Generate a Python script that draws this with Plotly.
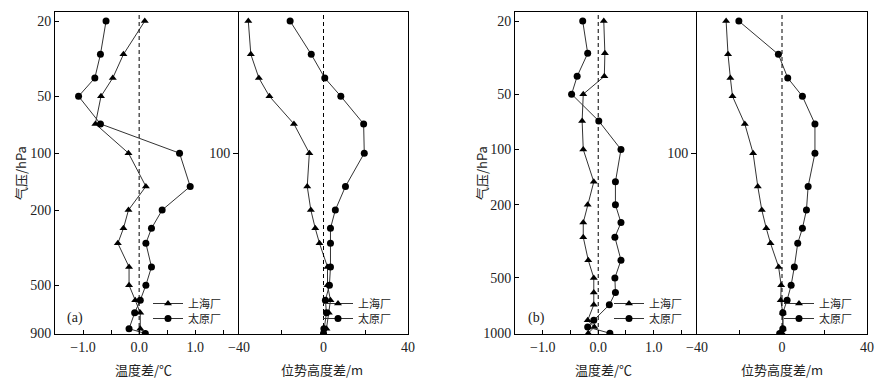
import math
import plotly.graph_objects as go

# ---------------- data ----------------
# panel (a)
levels_a = [20, 30, 40, 50, 70, 100, 150, 200, 250, 300, 400, 500, 600, 700, 850, 900]
temp_a_shanghai = [0.10, -0.28, -0.47, -0.68, -0.78, -0.19, 0.12, -0.19, -0.28, -0.38, -0.18, -0.18, -0.07, 0.02, 0.02, 0.11]
temp_a_taiyuan = [-0.59, -0.69, -0.79, -1.08, -0.69, 0.72, 0.91, 0.41, 0.22, 0.12, 0.22, 0.12, 0.02, -0.08, -0.18, 0.11]
geo_a_shanghai = [-35.6, -34.4, -30.6, -25.6, -14.0, -6.7, -7.7, -6.0, -3.9, -1.9, 1.9, 1.9, 3.3, 2.5, 1.4, 0.2]
geo_a_taiyuan = [-15.8, -5.8, 0.6, 8.2, 19.0, 19.3, 10.4, 5.6, 3.3, 3.3, 3.3, 2.8, 0.9, 1.4, 0.2, 0.0]

# panel (b)
levels_b_temp = [20, 30, 40, 50, 70, 100, 150, 200, 250, 300, 400, 500, 600, 700, 850, 925, 1000]
temp_b_shanghai = [0.10, 0.12, 0.11, -0.27, -0.29, -0.27, -0.08, -0.19, -0.27, -0.27, -0.18, -0.08, -0.08, -0.08, -0.19, -0.07, -0.18]
temp_b_taiyuan = [-0.28, -0.19, -0.38, -0.48, 0.01, 0.41, 0.31, 0.31, 0.41, 0.30, 0.41, 0.30, 0.31, 0.20, -0.08, -0.19, 0.21]
levels_b_geo = [20, 30, 40, 50, 70, 100, 150, 200, 250, 300, 400, 500, 600, 700, 850, 900]
geo_b_shanghai = [-26.3, -25.4, -24.3, -23.3, -17.5, -13.6, -11.4, -9.5, -7.4, -5.4, -1.6, -0.4, -0.6, 0.4, 0.4, 0.2]
geo_b_taiyuan = [-20.3, -1.7, 2.7, 9.6, 15.5, 15.5, 12.3, 11.5, 9.6, 7.4, 5.8, 4.3, 2.4, 0.4, 0.4, -1.1]

series_names = ["上海厂", "太原厂"]
y_ticks_a = [20, 50, 100, 200, 500, 900]
y_ticks_b = [20, 50, 100, 200, 500, 1000]

# ---------------- style ----------------
W, H = 895, 380
NUM_FONT = "Liberation Serif, Noto Sans CJK SC, serif"
CJK_FONT = "Noto Sans CJK SC, Liberation Serif, serif"
LINE_COL = "#333333"
MARK_COL = "#000000"

def px(x):
    return x / W

def py(y):
    return 1 - y / H

ydom = [py(334), py(12)]
panels = [
    # (xaxis id, yaxis id, legend ids, legend left px)
    ("x", "y", ("legend", "legend2"), 148),
    ("x2", "y2", ("legend3", "legend4"), 318),
    ("x3", "y3", ("legend5", "legend6"), 609),
    ("x4", "y4", ("legend7", "legend8"), 779),
]

panel_data = [
    (levels_a, temp_a_shanghai, temp_a_taiyuan),
    (levels_a, geo_a_shanghai, geo_a_taiyuan),
    (levels_b_temp, temp_b_shanghai, temp_b_taiyuan),
    (levels_b_geo, geo_b_shanghai, geo_b_taiyuan),
]

fig = go.Figure()
for (xa, ya, legs, _), (lev, s1, s2) in zip(panels, panel_data):
    fig.add_trace(go.Scatter(
        x=s1, y=lev, xaxis=xa, yaxis=ya, mode="lines+markers", name=series_names[0],
        legend=legs[0], line=dict(color=LINE_COL, width=1),
        marker=dict(symbol="triangle-up", size=7, color=MARK_COL)))
    fig.add_trace(go.Scatter(
        x=s2, y=lev, xaxis=xa, yaxis=ya, mode="lines+markers", name=series_names[1],
        legend=legs[1], line=dict(color=LINE_COL, width=1),
        marker=dict(symbol="circle", size=7, color=MARK_COL)))

base = dict(showline=True, linecolor="black", linewidth=1,
            showgrid=False, zeroline=False, tickcolor="black", automargin=False,
            tickfont=dict(family=NUM_FONT, size=14, color="#222"))
frame = dict(mirror=True, **base)
frame_left_only = dict(mirror=False, **base)

range_a = [math.log10(906), math.log10(17.9)]
range_b = [math.log10(1000) + 0.004, math.log10(20) - 0.049]

layout = dict(
    width=W, height=H, margin=dict(l=0, r=0, t=0, b=0, autoexpand=False),
    paper_bgcolor="white", plot_bgcolor="white", showlegend=True,
    font=dict(family=CJK_FONT, color="#222"),
)

temp_x = dict(range=[-1.5, 1.78], tick0=0, dtick=1, tickformat=".1f", ticks="inside", ticklen=4,
              minor=dict(tick0=0, dtick=0.5, ticks="inside", ticklen=4, tickcolor="black"), **frame)
geo_x = dict(range=[-40, 40], tick0=0, dtick=40, ticks="inside", ticklen=4,
             minor=dict(tick0=0, dtick=20, ticks="inside", ticklen=4, tickcolor="black"), **frame)

layout["xaxis"] = dict(domain=[px(55), px(239)], anchor="y", **temp_x)
layout["xaxis2"] = dict(domain=[px(239), px(408)], anchor="y2", **geo_x)
layout["xaxis3"] = dict(domain=[px(515), px(697)], anchor="y3", **temp_x)
layout["xaxis4"] = dict(domain=[px(697), px(867)], anchor="y4", **geo_x)

layout["yaxis"] = dict(domain=ydom, anchor="x", type="log", range=range_a, tickmode="array",
                       tickvals=y_ticks_a, ticktext=[str(v) for v in y_ticks_a],
                       ticks="inside", ticklen=4, **frame_left_only)
layout["yaxis2"] = dict(domain=ydom, anchor="x2", type="log", range=range_a, tickmode="array",
                        tickvals=[100], ticktext=["100"], ticks="outside", ticklen=5, **frame)
layout["yaxis3"] = dict(domain=ydom, anchor="x3", type="log", range=range_b, tickmode="array",
                        tickvals=y_ticks_b, ticktext=[str(v) for v in y_ticks_b],
                        ticks="inside", ticklen=4, **frame_left_only)
layout["yaxis4"] = dict(domain=ydom, anchor="x4", type="log", range=range_a, tickmode="array",
                        tickvals=[100], ticktext=["100"], ticks="outside", ticklen=5, **frame)

for xa, ya, legs, lx in panels:
    for leg, ly in zip(legs, (303.5, 318.5)):
        layout[leg] = dict(x=px(lx), y=py(ly), xanchor="left", yanchor="middle",
                           bgcolor="rgba(0,0,0,0)", borderwidth=0, itemwidth=30,
                           font=dict(family=CJK_FONT, size=11, color="#222"))

fig.update_layout(**layout)

# zero reference lines
for xa, ya, _, _ in panels:
    fig.add_shape(type="line", xref=xa, yref=f"{ya} domain", x0=0, x1=0, y0=0, y1=1,
                  line=dict(color="black", width=1, dash="4px,3px"))

# axis titles and panel tags
ann = [
    ("温度差/℃", 143, 369, 0),
    ("位势高度差/m", 322, 369, 0),
    ("温度差/℃", 603, 369, 0),
    ("位势高度差/m", 782, 369, 0),
    ("气压/hPa", 20, 173, -90),
    ("气压/hPa", 481, 173, -90),
]
for text, x, y, ang in ann:
    fig.add_annotation(text=text, x=px(x), y=py(y), xref="paper", yref="paper",
                       showarrow=False, textangle=ang, xanchor="center", yanchor="middle",
                       font=dict(family=CJK_FONT, size=13, color="#222"))
for tag, x in [("(a)", 75), ("(b)", 536)]:
    fig.add_annotation(text=tag, x=px(x), y=py(318), xref="paper", yref="paper",
                       showarrow=False, xanchor="center", yanchor="middle",
                       font=dict(family=NUM_FONT, size=14, color="#222"))

fig.write_html(
    "out.html",
    config={"displayModeBar": False},
    post_script="document.body.style.margin='0';document.body.style.padding='0';"
                "document.body.style.overflow='hidden';",
)
